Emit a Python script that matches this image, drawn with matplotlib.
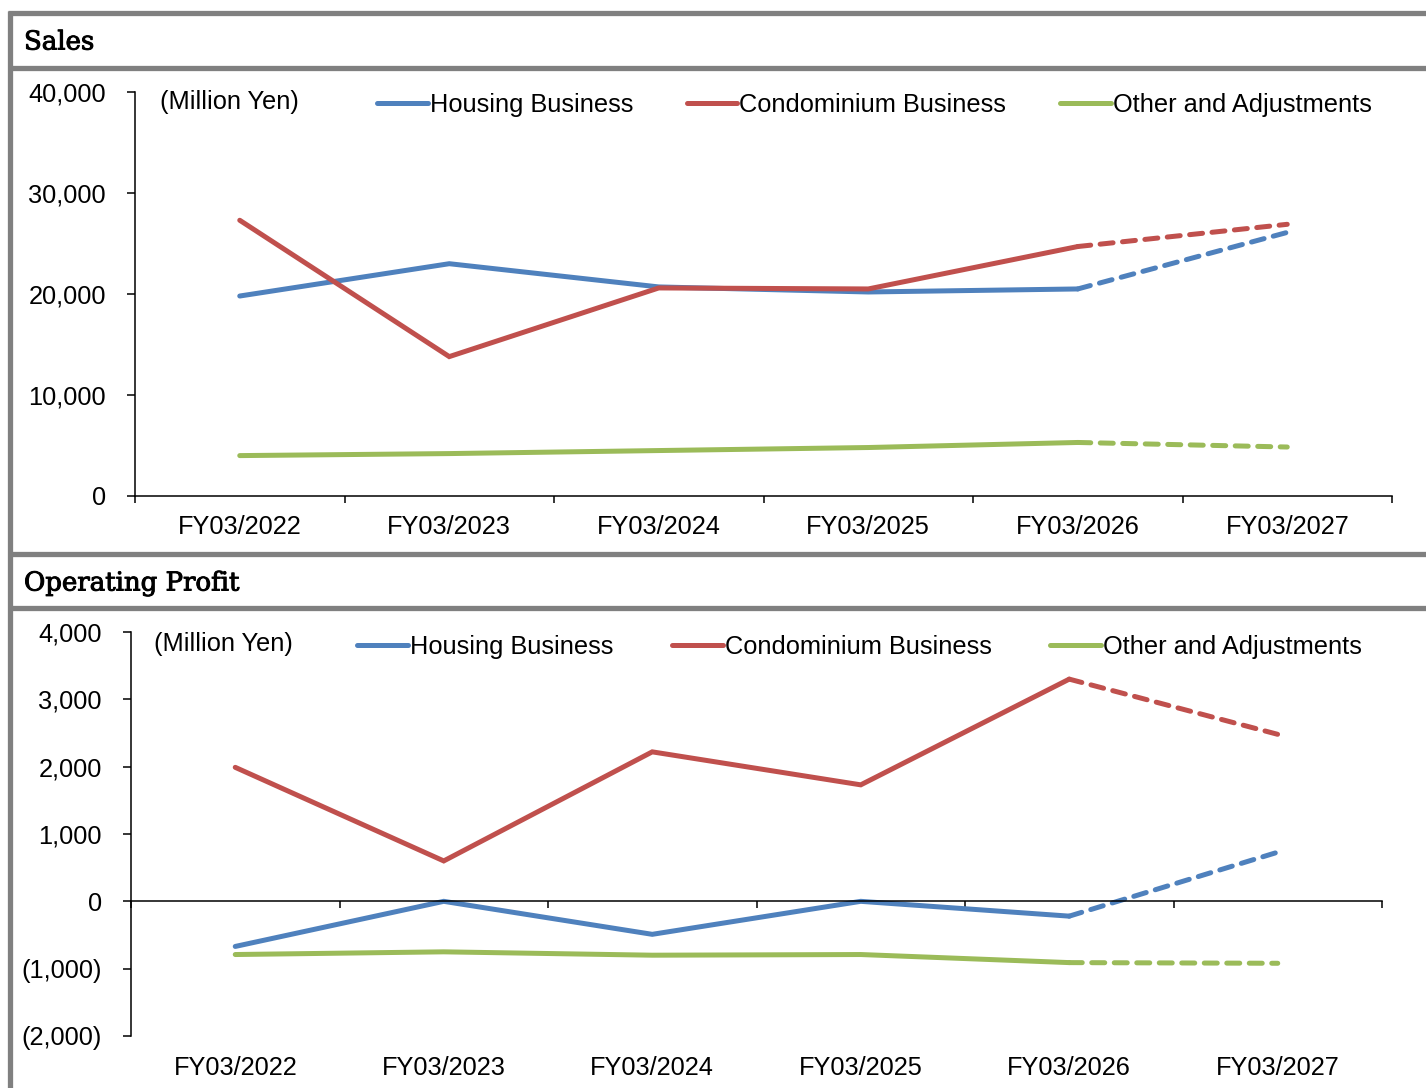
import matplotlib.pyplot as plt
import matplotlib.patheffects as pe
from matplotlib.lines import Line2D
from matplotlib.ticker import FuncFormatter, FixedLocator

plt.rcParams['font.family'] = ['Liberation Sans', 'DejaVu Sans']

# データ
years = ['FY03/2022', 'FY03/2023', 'FY03/2024', 'FY03/2025', 'FY03/2026', 'FY03/2027']
series = ['Housing Business', 'Condominium Business', 'Other and Adjustments']

sales_housing = [19800, 23000, 20700, 20200, 20500, 26100]
sales_condo = [27300, 13800, 20600, 20500, 24700, 26900]
sales_other = [4000, 4200, 4500, 4800, 5300, 4850]

op_housing = [-670, 0, -490, 0, -220, 730]
op_condo = [1990, 600, 2220, 1730, 3300, 2480]
op_other = [-790, -750, -800, -790, -910, -920]

colors = ['#4F81BD', '#C0504D', '#9BBB59']
W, H = 1426, 1088
GREY = '#808080'


def fx(px):
    return px / W


def fy(py):
    return 1 - py / H


def draw_lines(ax, data):
    x = list(range(len(years)))
    for vals, name, c in zip(data, series, colors):
        # 実績は実線、予想（最後の区間）は破線
        ax.plot(x[:5], vals[:5], color=c, lw=3.6, label=name,
                solid_capstyle='round', solid_joinstyle='miter')
        ax.plot(x[4:], vals[4:], color=c, lw=3.6, linestyle=(0, (2.6, 1.9)),
                dash_capstyle='round')
    ax.set_xlim(-0.5, len(years) - 0.5)
    ax.xaxis.set_major_locator(FixedLocator([i - 0.5 for i in range(len(years) + 1)]))
    ax.tick_params(axis='x', which='major', direction='out', length=5, width=1.1,
                   labelbottom=False)
    ax.tick_params(axis='y', direction='out', length=6, width=1.1, labelsize=18.3, pad=15)
    for s in ['top', 'right']:
        ax.spines[s].set_visible(False)
    for s in ['left', 'bottom']:
        ax.spines[s].set_linewidth(1.1)


fig = plt.figure(figsize=(W / 100, H / 100), dpi=100)

# 灰色の枠線
for py in [13, 68, 554, 608]:
    fig.add_artist(Line2D([fx(8), 1], [fy(py), fy(py)], color=GREY, lw=3.8,
                          solid_capstyle='butt', transform=fig.transFigure))
fig.add_artist(Line2D([fx(10), fx(10)], [fy(11), 0], color=GREY, lw=3.8,
                      solid_capstyle='butt', transform=fig.transFigure))

# 見出し（少し太く見せる）
head_fx = [pe.withStroke(linewidth=0.7, foreground='black')]
fig.text(fx(24), fy(42), 'Sales', family='DejaVu Serif', fontsize=18.7,
         va='center', ha='left', path_effects=head_fx)
fig.text(fx(24), fy(583), 'Operating Profit', family='DejaVu Serif', fontsize=18.7,
         va='center', ha='left', path_effects=head_fx)

# 売上高
ax1 = fig.add_axes([fx(135), fy(496), fx(1392) - fx(135), fy(92) - fy(496)])
draw_lines(ax1, [sales_housing, sales_condo, sales_other])
ax1.set_ylim(0, 40000)
ax1.set_yticks(range(0, 40001, 10000))
ax1.yaxis.set_major_formatter(FuncFormatter(lambda v, p: f'{v:,.0f}'))
ax1.set_xticks(range(len(years)), minor=True)
ax1.set_xticklabels(years, minor=True)
ax1.tick_params(axis='x', which='minor', length=0, labelsize=18.3, pad=14)
ax1.text(0.02, 0.975, '(Million Yen)', transform=ax1.transAxes, fontsize=18.3,
         va='center', ha='left')
ax1.legend(loc='center left', bbox_to_anchor=(0.1925, 0.968), ncol=3, frameon=False,
           fontsize=18.3, handlelength=2.0, handletextpad=0.08, columnspacing=2.1,
           borderpad=0, borderaxespad=0)

# 営業利益
ax2 = fig.add_axes([fx(131), fy(1036), fx(1382) - fx(131), fy(632) - fy(1036)])
draw_lines(ax2, [op_housing, op_condo, op_other])
ax2.set_ylim(-2000, 4000)
ax2.set_yticks(range(-2000, 4001, 1000))
ax2.yaxis.set_major_formatter(
    FuncFormatter(lambda v, p: f'({-v:,.0f})' if v < 0 else f'{v:,.0f}'))
ax2.spines['bottom'].set_position(('data', 0))
for i, name in enumerate(years):
    ax2.text(i, -0.079, name, transform=ax2.get_xaxis_transform(), fontsize=18.3,
             ha='center', va='center')
ax2.text(0.0184, 0.970, '(Million Yen)', transform=ax2.transAxes, fontsize=18.3,
         va='center', ha='left')
ax2.legend(loc='center left', bbox_to_anchor=(0.1807, 0.963), ncol=3, frameon=False,
           fontsize=18.3, handlelength=2.0, handletextpad=0.08, columnspacing=2.3,
           borderpad=0, borderaxespad=0)

plt.savefig('out.png', dpi=100)
